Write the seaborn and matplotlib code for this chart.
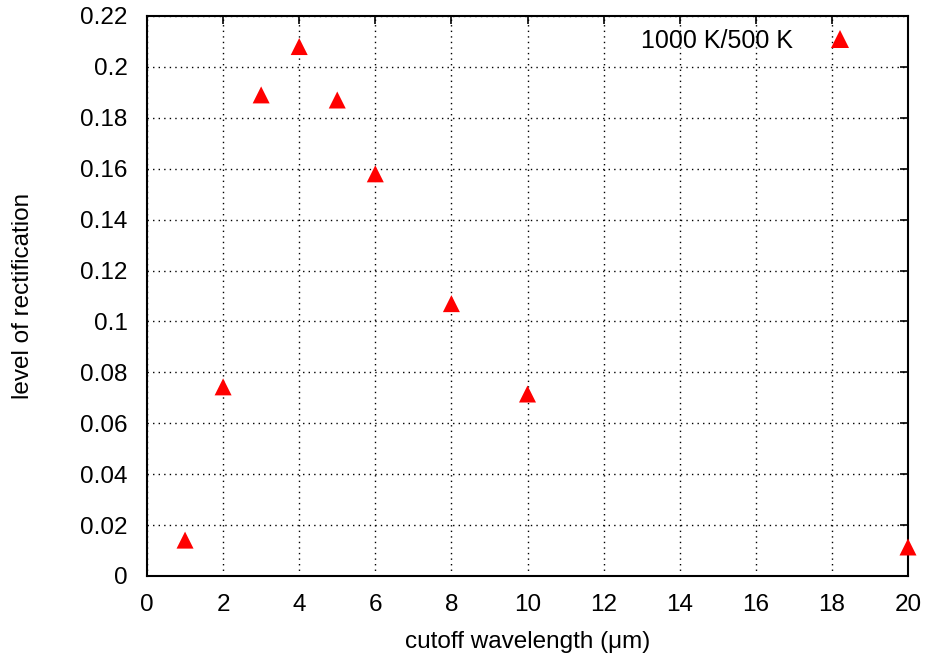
import matplotlib
matplotlib.use("Agg")
import matplotlib.pyplot as plt
import seaborn as sns
import pandas as pd

wavelength = [1, 2, 3, 4, 5, 6, 8, 10, 20]
rectification = [0.0141, 0.0743, 0.189, 0.208, 0.187, 0.158, 0.107, 0.0715, 0.0114]
series_label = "1000 K/500 K"
x_ticks = list(range(0, 21, 2))
y_ticks = [0, 0.02, 0.04, 0.06, 0.08, 0.1, 0.12, 0.14, 0.16, 0.18, 0.2, 0.22]
y_tick_labels = ["0", "0.02", "0.04", "0.06", "0.08", "0.1", "0.12", "0.14", "0.16", "0.18", "0.2", "0.22"]

sns.set_theme(style="white")
plt.rcParams['font.family'] = ['Liberation Sans', 'DejaVu Sans']
plt.rcParams['text.color'] = 'black'
plt.rcParams['axes.labelcolor'] = 'black'

df = pd.DataFrame({"x": wavelength, "y": rectification, "s": series_label})

FS = 17.5
fig = plt.figure(figsize=(9.31, 6.64), dpi=100)
ax = fig.add_axes([147/931, 88/664, 761/931, 560/664])
sns.scatterplot(data=df, x="x", y="y", hue="s", palette=["#ff0000"], marker="^",
                s=150, edgecolor="none", linewidth=0, ax=ax, zorder=3, clip_on=False)

ax.set_xlim(0, 20)
ax.set_ylim(0, 0.22)
ax.set_xticks(x_ticks)
ax.set_xticklabels([str(t) for t in x_ticks])
ax.set_yticks(y_ticks)
ax.set_yticklabels(y_tick_labels)
ax.tick_params(direction="in", length=6, width=1.2, top=True, right=True,
               labelsize=FS, colors="black")
ax.tick_params(axis="x", pad=13)
ax.tick_params(axis="y", pad=14)
ax.grid(True, linestyle=(0, (1, 3)), color="black", linewidth=1)
for sp in ax.spines.values():
    sp.set_color("black")
    sp.set_linewidth(1.5)
ax.set_xlabel("cutoff wavelength (μm)", fontsize=FS, labelpad=11)
ax.set_ylabel("level of rectification", fontsize=FS, labelpad=33)

leg = ax.legend(loc="upper right", frameon=False, markerfirst=False, fontsize=18,
                handletextpad=0.9, borderaxespad=0.1, bbox_to_anchor=(0.96, 1.0))
for t in leg.get_texts():
    t.set_color("black")

fig.savefig("out.png", dpi=100, facecolor="white")
